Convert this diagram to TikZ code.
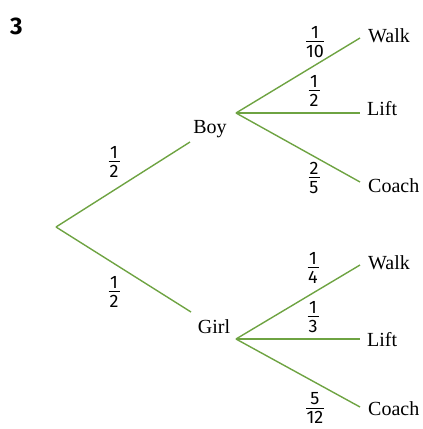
\documentclass[tikz,border=0pt]{standalone}
\usepackage{fontspec}
\setmainfont{Liberation Serif}
\newfontfamily\fracfont{Fira Sans}
\newfontfamily\numfont{Fira Sans}[BoldFont={Fira Sans Bold}]
\definecolor{branch}{RGB}{110,163,66}
% stacked fraction: numerator, rule, denominator
\newcommand\fr[2]{\vbox{\offinterlineskip\halign{\hfil##\hfil\cr
  \fracfont #1\cr\noalign{\kern2.5pt}
  \vrule height1pt width\fracw\cr\noalign{\kern2.5pt}
  \fracfont #2\cr}}}
\newlength\fracw
\setlength\fracw{11pt}
\begin{document}
\begin{tikzpicture}[x=1pt,y=-1pt,
  br/.style={draw=branch,line width=1.4pt},
  outcome/.style={anchor=base west,inner sep=0pt,font=\fontsize{20}{22}\selectfont},
  prob/.style={inner sep=0pt,font=\fontsize{18}{20}\selectfont},
  group/.style={anchor=base,inner sep=0pt,font=\fontsize{20}{22}\selectfont}]
\useasboundingbox (0,0) rectangle (423,429);

% question number
\node[anchor=base west,inner sep=0pt,font=\numfont\bfseries\fontsize{24}{26}\selectfont] (qnum) at (10,34) {3};

% first stage
\coordinate (root) at (56,227);
\coordinate (boyin) at (190,142);
\coordinate (girlin) at (191,312);
\node[group] (boy) at (210,133) {Boy};
\node[group] (girl) at (214,333) {Girl};
\draw[br] (root) -- (boyin);
\draw[br] (root) -- (girlin);
\node[prob] (pb) at (114,162) {\setlength\fracw{11pt}\fr{1}{2}};
\node[prob] (pg) at (114,292) {\setlength\fracw{11pt}\fr{1}{2}};

% second stage after Boy
\coordinate (bo) at (236,113);
\coordinate (bw) at (360,38);
\coordinate (bl) at (360,113);
\coordinate (bc) at (360,182);
\draw[br] (bo) -- (bw);
\draw[br] (bo) -- (bl);
\draw[br] (bo) -- (bc);
\node[outcome] (bwalk) at (368,42) {Walk};
\node[outcome] (blift) at (367,115) {Lift};
\node[outcome] (bcoach) at (368,192) {Coach};
\node[prob] (pbw) at (315,42) {\setlength\fracw{18pt}\fr{1}{10}};
\node[prob] (pbl) at (314,91) {\setlength\fracw{11pt}\fr{1}{2}};
\node[prob] (pbc) at (314,178) {\setlength\fracw{11pt}\fr{2}{5}};

% second stage after Girl
\coordinate (go) at (236,339);
\coordinate (gw) at (360,265);
\coordinate (gl) at (360,339);
\coordinate (gc) at (360,407);
\draw[br] (go) -- (gw);
\draw[br] (go) -- (gl);
\draw[br] (go) -- (gc);
\node[outcome] (gwalk) at (368,269) {Walk};
\node[outcome] (glift) at (367,346) {Lift};
\node[outcome] (gcoach) at (368,415) {Coach};
\node[prob] (pgw) at (313,268) {\setlength\fracw{11pt}\fr{1}{4}};
\node[prob] (pgl) at (313,317) {\setlength\fracw{11pt}\fr{1}{3}};
\node[prob] (pgc) at (315,408) {\setlength\fracw{18pt}\fr{5}{12}};
\end{tikzpicture}
\end{document}
